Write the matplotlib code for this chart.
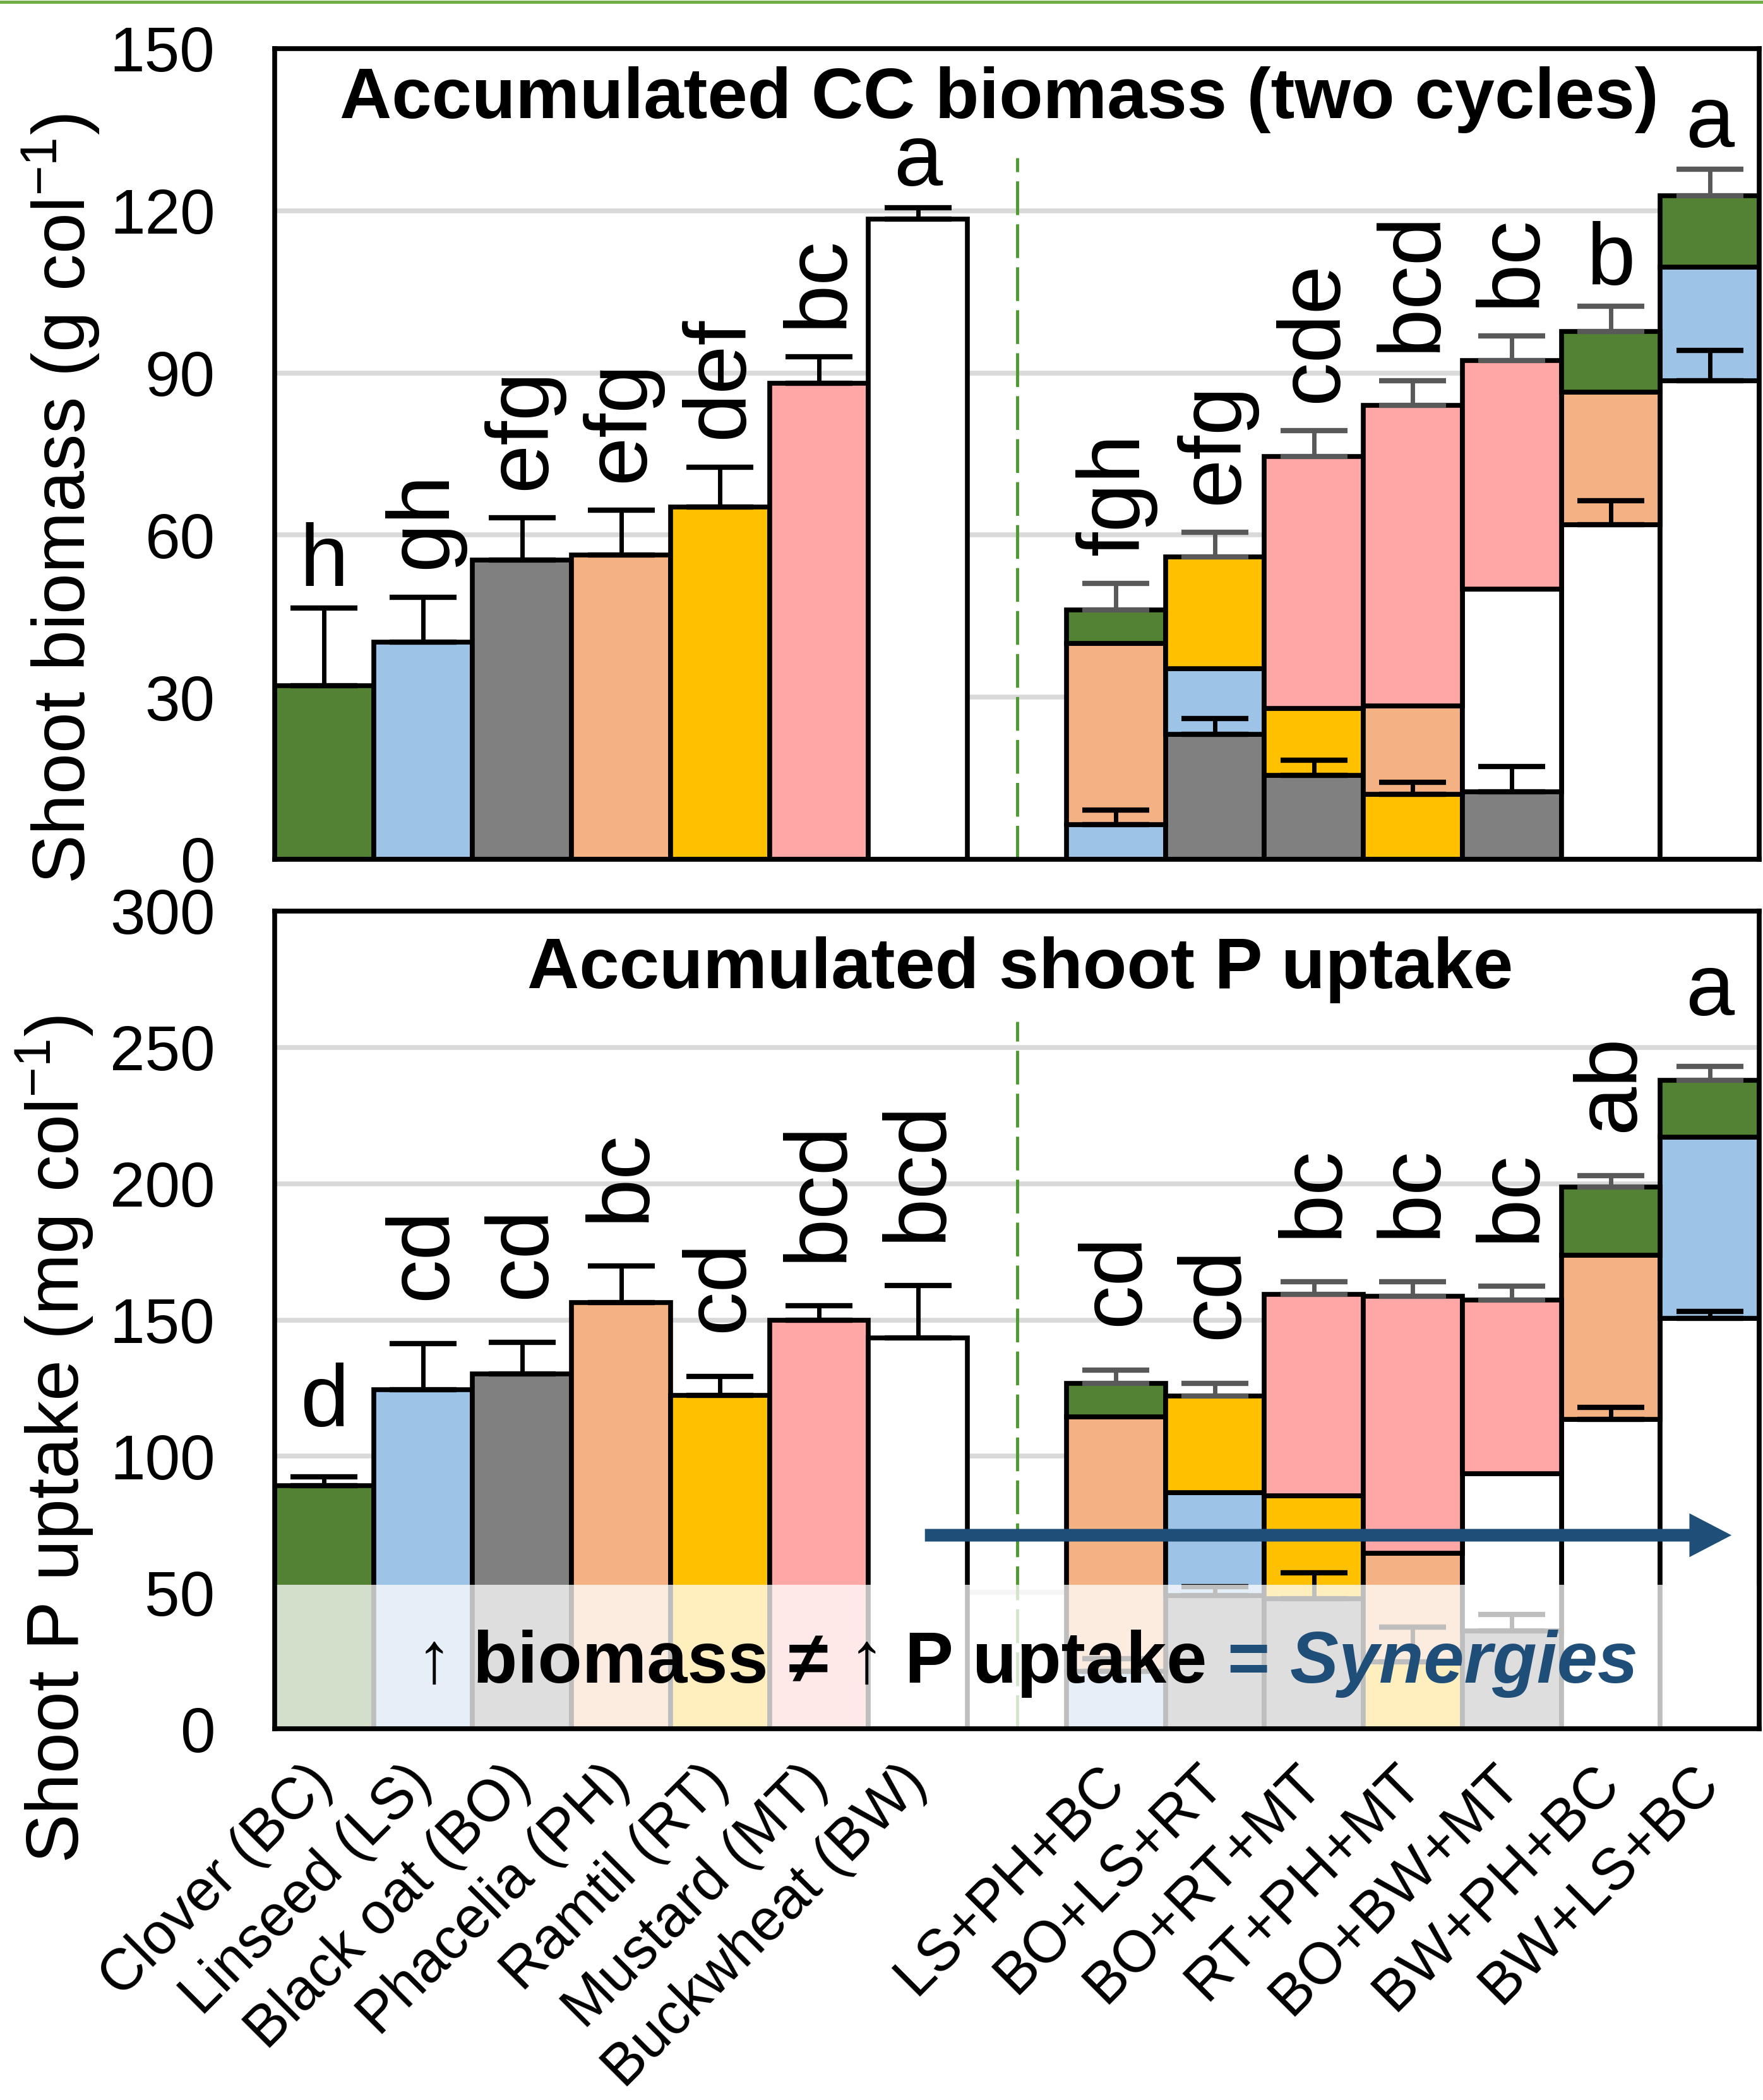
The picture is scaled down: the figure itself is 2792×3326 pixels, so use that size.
import matplotlib
matplotlib.use('Agg')
import matplotlib.pyplot as plt
from matplotlib.patches import Rectangle
from matplotlib.lines import Line2D
import numpy as np

plt.rcParams['font.family'] = ['Liberation Sans', 'DejaVu Sans']
plt.rcParams['mathtext.fontset'] = 'custom'
plt.rcParams['mathtext.rm'] = 'Liberation Sans'
plt.rcParams['mathtext.it'] = 'Liberation Sans:italic'
plt.rcParams['mathtext.bf'] = 'Liberation Sans:bold'

# Categories
single_names = ['Clover (BC)', 'Linseed (LS)', 'Black oat (BO)', 'Phacelia (PH)',
                'Ramtil (RT)', 'Mustard (MT)', 'Buckwheat (BW)']
single_codes = ['BC', 'LS', 'BO', 'PH', 'RT', 'MT', 'BW']
mix_names = ['LS+PH+BC', 'BO+LS+RT', 'BO+RT+MT', 'RT+PH+MT',
             'BO+BW+MT', 'BW+PH+BC', 'BW+LS+BC']
mix_parts = [['LS', 'PH', 'BC'], ['BO', 'LS', 'RT'], ['BO', 'RT', 'MT'], ['RT', 'PH', 'MT'],
             ['BO', 'BW', 'MT'], ['BW', 'PH', 'BC'], ['BW', 'LS', 'BC']]
species_colors = {'BC': '#548235', 'LS': '#9DC3E6', 'BO': '#808080', 'PH': '#F4B183',
                  'RT': '#FFC000', 'MT': '#FFA7A7', 'BW': '#FFFFFF'}

# Shoot biomass (g col-1)
bio_single = [32.1, 40.2, 55.4, 56.3, 65.2, 88.1, 118.4]
bio_single_se = [14.4, 8.3, 7.8, 8.3, 7.4, 4.9, 2.2]
bio_mix_bottom = [6.4, 23.1, 15.5, 12.0, 12.5, 61.9, 88.6]
bio_mix_middle = [33.5, 12.2, 12.4, 16.4, 37.5, 24.5, 21.0]
bio_mix_top = [6.3, 20.7, 46.6, 55.6, 42.3, 11.3, 13.2]
bio_mix_bottom_se = [2.7, 3.0, 2.8, 2.3, 4.7, 4.4, 5.6]
bio_mix_total_se = [4.9, 4.5, 4.8, 4.6, 4.6, 4.6, 4.9]
bio_single_letters = ['h', 'gh', 'efg', 'efg', 'def', 'bc', 'a']
bio_mix_letters = ['fgh', 'efg', 'cde', 'bcd', 'bc', 'b', 'a']

# Shoot P uptake (mg col-1)
p_single = [89.2, 124.3, 130.3, 156.4, 122.3, 150.0, 143.3]
p_single_se = [3.2, 17.0, 11.4, 13.3, 7.0, 5.1, 19.3]
p_mix_bottom = [21.0, 48.8, 47.8, 24.6, 35.8, 113.4, 150.6]
p_mix_middle = [93.4, 37.8, 37.7, 39.8, 57.9, 60.3, 66.5]
p_mix_top = [12.4, 35.4, 73.8, 94.4, 63.7, 25.0, 20.9]
p_mix_bottom_se = [4.7, 3.3, 9.4, 12.7, 6.1, 4.5, 2.6]
p_mix_total_se = [4.8, 4.8, 4.7, 5.1, 5.0, 4.2, 5.0]
p_single_letters = ['d', 'cd', 'cd', 'bc', 'cd', 'bcd', 'bcd']
p_mix_letters = ['cd', 'cd', 'bc', 'bc', 'bc', 'ab', 'a']

bio_ticks = [0, 30, 60, 90, 120, 150]
p_ticks = [0, 50, 100, 150, 200, 250, 300]

x_single = np.arange(7)
x_mix = np.arange(8, 15)

W, H = 2792, 3326
fig = plt.figure(figsize=(W / 100, H / 100), dpi=100)
ax1 = fig.add_axes([435 / W, 1 - 1361 / H, (2786 - 435) / W, (1361 - 77) / H])
ax2 = fig.add_axes([435 / W, 1 - 2738 / H, (2786 - 435) / W, (2738 - 1443) / H])

BAR_LW = 5.5
ERR = dict(fmt='none', elinewidth=5, capsize=38, capthick=6, zorder=3)


def draw_panel(ax, singles, singles_se, bottoms, middles, tops, bottom_se, total_se,
               s_letters, m_letters, ticks, title, title_x, title_y, rot_off, up_off):
    ax.bar(x_single, singles, width=1.0, color=[species_colors[c] for c in single_codes],
           edgecolor='black', linewidth=BAR_LW, zorder=2)
    base = np.zeros(7)
    for level, vals in enumerate([bottoms, middles, tops]):
        cols = [species_colors[parts[level]] for parts in mix_parts]
        ax.bar(x_mix, vals, bottom=base, width=1.0, color=cols,
               edgecolor='black', linewidth=BAR_LW, zorder=2)
        base = base + np.array(vals)
    totals = base

    zeros = np.zeros(7)
    ax.errorbar(x_single, singles, yerr=[zeros, singles_se], ecolor='black', **ERR)
    ax.errorbar(x_mix, bottoms, yerr=[zeros, bottom_se], ecolor='black', **ERR)
    ax.errorbar(x_mix, totals, yerr=[zeros, total_se], ecolor='#595959', **ERR)

    tops_err = list(np.array(singles) + np.array(singles_se)) + list(totals + np.array(total_se))
    xs = list(x_single) + list(x_mix)
    for x, y, lab in zip(xs, tops_err, s_letters + m_letters):
        if len(lab) > 1:
            ax.annotate(lab, xy=(x, y), xytext=(0, rot_off), textcoords='offset points',
                        ha='center', va='bottom', rotation=90, fontsize=100, zorder=7)
        else:
            ax.annotate(lab, xy=(x, y), xytext=(0, up_off), textcoords='offset points',
                        ha='center', va='baseline', fontsize=100, zorder=7)

    ax.set_xlim(-0.5, 14.5)
    ax.set_ylim(ticks[0], ticks[-1])
    ax.set_yticks(ticks)
    ax.yaxis.grid(True, color='#D9D9D9', linewidth=5.5)
    ax.set_axisbelow(True)
    ax.tick_params(axis='y', length=0, pad=68, labelsize=72)
    for sp in ax.spines.values():
        sp.set_linewidth(5.5)
        sp.set_zorder(6)
    ax.plot([7, 7], [0, ticks[-1] * 0.865], color='#4E9A2E', lw=3.5,
            ls=(0, (11, 3)), zorder=1.5)
    ax.text(title_x, title_y, title, transform=ax.transAxes, ha='center', va='baseline',
            fontsize=82, fontweight='bold', zorder=7)


draw_panel(ax1, bio_single, bio_single_se, bio_mix_bottom, bio_mix_middle, bio_mix_top,
           bio_mix_bottom_se, bio_mix_total_se, bio_single_letters, bio_mix_letters,
           bio_ticks, 'Accumulated CC biomass (two cycles)', 0.488, 0.914, 32, 25)
draw_panel(ax2, p_single, p_single_se, p_mix_bottom, p_mix_middle, p_mix_top,
           p_mix_bottom_se, p_mix_total_se, p_single_letters, p_mix_letters,
           p_ticks, 'Accumulated shoot P uptake', 0.502, 0.906, 50, 58)

ax1.set_xticks([])
ax2.set_xticks(list(x_single) + list(x_mix))
ax2.set_xticklabels(single_names + mix_names, rotation=45, ha='right', va='center',
                    rotation_mode='anchor', fontsize=66)
ax2.tick_params(axis='x', length=0, pad=52)

fig.text(97 / W, 1 - 790 / H, 'Shoot biomass (g col$^{-1}$)', rotation=90,
         ha='center', va='center', fontsize=84)
fig.text(87 / W, 1 - 2279 / H, 'Shoot P uptake (mg col$^{-1}$)', rotation=90,
         ha='center', va='center', fontsize=84)

# translucent box with the synergy message
ax2.add_patch(Rectangle((-0.5, 0.6), 15, 52.2, facecolor='white', alpha=0.75,
                        edgecolor='none', zorder=4))
ax2.annotate('', xy=(14.22, 71), xytext=(6.07, 71),
             arrowprops=dict(arrowstyle='simple,head_length=48,head_width=50,tail_width=14.4',
                             mutation_scale=1, color='#1F4E79', lw=0,
                             shrinkA=0, shrinkB=0), zorder=5)

pieces = [('\u2191', 'black', 'normal', 'normal'),
          (' biomass \u2260', 'black', 'bold', 'normal'),
          (' \u2191', 'black', 'normal', 'normal'),
          (' P uptake', 'black', 'bold', 'normal'),
          (' =', '#1F4E79', 'bold', 'normal'),
          (' Synergies', '#1F4E79', 'bold', 'italic')]
prev = None
for txt, col, wt, st in pieces:
    if prev is None:
        prev = ax2.text(0.93, 16.9, txt, color=col, fontweight=wt, fontstyle=st,
                        fontsize=83, ha='left', va='baseline', zorder=7)
    else:
        prev = ax2.annotate(txt, xy=(1, 0), xycoords=prev, color=col, fontweight=wt,
                            fontstyle=st, fontsize=83, ha='left', va='bottom', zorder=7)

fig.add_artist(Line2D([0, 1], [1 - 2.5 / H, 1 - 2.5 / H], transform=fig.transFigure,
                      color='#70AD47', lw=3.6))

fig.savefig('out.png', dpi=100)
